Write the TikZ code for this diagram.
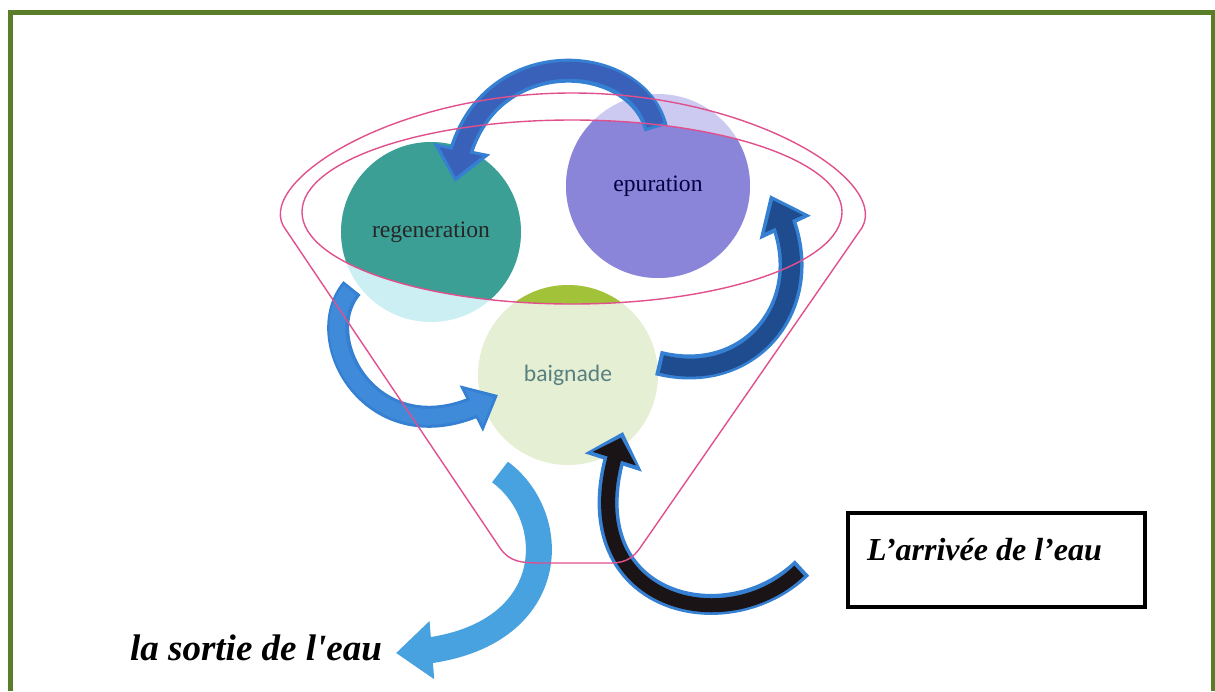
\documentclass[tikz,border=0pt]{standalone}
\usepackage{fontspec}
\setmainfont{Liberation Serif}
\newfontfamily\calibrifont{Carlito}
\usetikzlibrary{calc, arrows.meta, bending}
\definecolor{frameg}{HTML}{5A7D2A}
\definecolor{funnelp}{HTML}{E0508C}
\definecolor{regteal}{HTML}{3C9F96}
\definecolor{regpale}{HTML}{CBEFF3}
\definecolor{epupurple}{HTML}{8A85D9}
\definecolor{epupale}{HTML}{CDCAF2}
\definecolor{baiolive}{HTML}{A2C23A}
\definecolor{baipale}{HTML}{E5EFD3}
\definecolor{bordblue}{HTML}{3580D2}
\definecolor{topfill}{HTML}{3A61BA}
\definecolor{leftfill}{HTML}{3F8BD9}
\definecolor{navyfill}{HTML}{1F4C8E}
\definecolor{inkfill}{HTML}{1B1416}
\definecolor{exitblue}{HTML}{48A2E0}

\begin{document}
\begin{tikzpicture}[x=0.5pt, y=-0.5pt,
  disc/.style={circle, inner sep=0pt, minimum size=90pt},
  inlbl/.style={font=\fontsize{11.8}{14}\selectfont, text=black!85},
  funnel/.style={draw=funnelp, line width=0.7pt},
  titl/.style={font=\fontsize{16}{18}\selectfont\bfseries\itshape},
]
\useasboundingbox (0,0) rectangle (1215,691);
\draw[frameg, line width=2.5pt] (10.5,691) -- (10.5,12.5) -- (1213,12.5) -- (1213,691);

% the three basins
\node[disc, fill=regpale] (regen) at (431,232) {};
\node[disc, minimum size=92pt, fill=epupale] (epu) at (658,186) {};
\node[disc, fill=baipale] (bai) at (568,375) {};
\begin{scope}
  \clip (572,212) ellipse [x radius=270, y radius=92];
  \fill[regteal] (regen.center) circle [radius=90];
  \fill[epupurple] (epu.center) circle [radius=92];
  \fill[baiolive] (bai.center) circle [radius=90];
\end{scope}
\node[inlbl] (regtxt) at (regen.center) {regeneration};
\node[inlbl, text=blue!25!black] (eputxt) at (epu.center) {epuration};
\node[font=\calibrifont\fontsize{11.8}{14}\selectfont, text=gray!70!teal] (baitxt) at (bai.center) {baignade};

\coordinate (aT) at ($(epu.center)+(-2,-58)$);
\coordinate (aH) at ($(regen.center)+(24,-50)$);
\coordinate (bT) at ($(regen.center)+(-79,56)$);
\coordinate (bH) at ($(bai.center)+(-70,20)$);
\coordinate (cT) at ($(bai.center)+(90,-12)$);
\coordinate (cH) at ($(epu.center)+(112,9)$);
\coordinate (inlet) at (802,568);
\coordinate (dH) at ($(bai.center)+(55,57)$);
\coordinate (eT) at ($(bai.center)+(-68,97)$);
\coordinate (outlet) at (396,653);

% epuration -> regeneration
\draw[bordblue, line width=12pt, -{Triangle[length=17pt, width=28pt]}]
  (aT) .. controls +(-22,-82) and +(14,-140) .. (aH);
\draw[topfill, line width=8.5pt, shorten <=1.5pt, shorten >=2.5pt, -{Triangle[length=13pt, width=21pt]}]
  (aT) .. controls +(-22,-82) and +(14,-140) .. (aH);
% regeneration -> baignade
\draw[bordblue, line width=11pt, -{Triangle[length=15pt, width=25pt]}]
  (bT) .. controls +(-46,54) and +(-118,72) .. (bH);
\draw[leftfill, line width=8pt, shorten <=1.5pt, shorten >=2.5pt, -{Triangle[length=11pt, width=19pt]}]
  (bT) .. controls +(-46,54) and +(-118,72) .. (bH);
% baignade -> epuration
\draw[bordblue, line width=12.5pt, -{Triangle[length=18pt, width=27pt]}]
  (cT) .. controls +(100,25) and +(58,95) .. (cH);
\draw[navyfill, line width=9pt, shorten <=2pt, shorten >=3pt, -{Triangle[length=13pt, width=20pt]}]
  (cT) .. controls +(100,25) and +(58,95) .. (cH);
% arrivee
\draw[bordblue, line width=10.5pt, -{Triangle[length=16pt, width=29pt]}]
  (inlet) .. controls +(-80,77) and +(-65,168) .. (dH);
\draw[inkfill, line width=7pt, shorten <=2pt, shorten >=3pt, -{Triangle[length=11pt, width=22pt]}]
  (inlet) .. controls +(-80,77) and +(-65,168) .. (dH);
% sortie
\draw[exitblue, line width=13pt, -{Triangle[length=18pt, width=28pt]}]
  (eT) .. controls +(65,48) and +(164,-3) .. (outlet);

% funnel
\draw[funnel] (572,212) ellipse [x radius=270, y radius=92];
\draw[funnel] (500,548) -- (286,230) .. controls (250,185) and (390,93) .. (572,93)
  .. controls (755,93) and (898,185) .. (859,232) -- (640,548)
  .. controls (634,556) and (628,563) .. (610,563) -- (545,563)
  .. controls (520,563) and (510,562) .. cycle;

\node[draw, line width=2pt, minimum width=148.5pt, minimum height=47pt] (inbox) at (996.5,560) {};
\node[titl] (intxt) at ($(inbox.center)+(-12,-10)$) {L’arrivée de l’eau};
\node[titl, font=\fontsize{18.5}{22}\selectfont\bfseries\itshape] (outtxt) at (256,648) {la sortie de l\textquotesingle eau};
\end{tikzpicture}
\end{document}
